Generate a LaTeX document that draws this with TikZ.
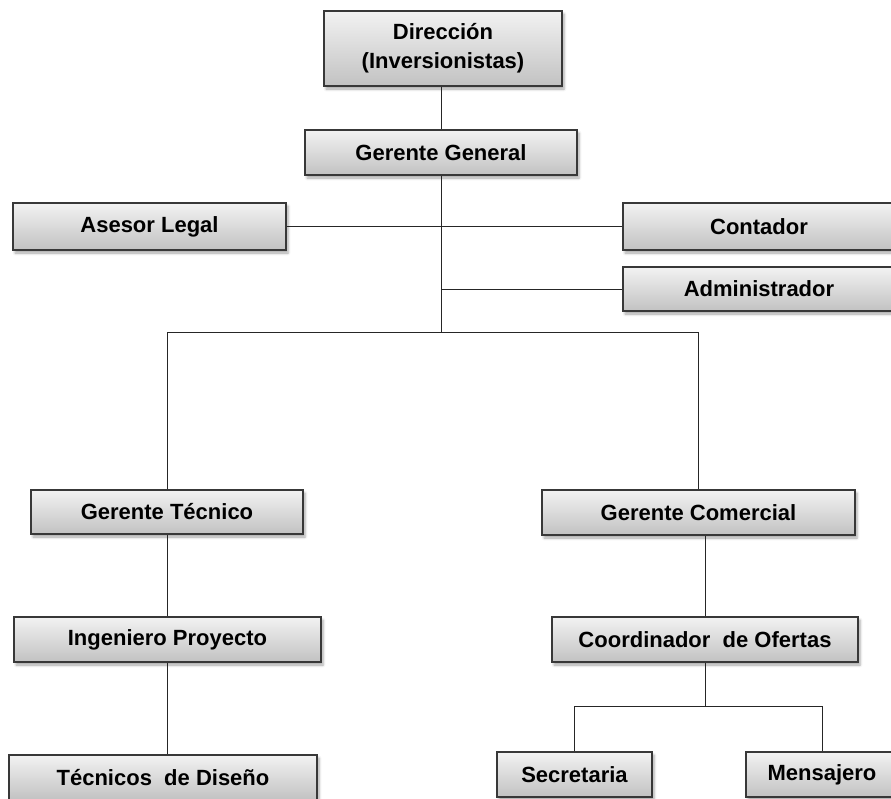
\documentclass[tikz,border=0pt]{standalone}
\usepackage{fontspec}
\setmainfont{Liberation Sans}
\usetikzlibrary{shadows.blur}
\begin{document}
\begin{tikzpicture}[x=1pt,y=-1pt,
  box/.style={draw=black!78, line width=1.3pt, top color=black!5, bottom color=black!24,
    blur shadow={shadow xshift=2pt, shadow yshift=-3pt, shadow blur radius=2.5pt, shadow opacity=35},
    inner sep=0pt, align=center, font=\fontsize{22}{29}\selectfont\bfseries, text=black},
  link/.style={draw=black!85, line width=1pt}]
\useasboundingbox (0,0) rectangle (891,798);
\clip (0,0) rectangle (891,798);

% boxes: centre, width, height in pixels
\node[box, minimum width=238pt, minimum height=75pt] (dir) at (443,48.5) {Dirección\\(Inversionistas)};
\node[box, minimum width=272pt, minimum height=45pt] (gg) at (441,152.5) {Gerente General};
\node[box, minimum width=273pt, minimum height=47pt] (legal) at (149.5,226.5) {Asesor Legal};
\node[box, minimum width=272pt, minimum height=47pt] (cont) at (759,226.5) {Contador};
\node[box, minimum width=272pt, minimum height=44pt] (adm) at (759,289) {Administrador};
\node[box, minimum width=272pt, minimum height=44pt] (gt) at (167,512) {Gerente Técnico};
\node[box, minimum width=313pt, minimum height=45pt] (gc) at (698.5,512.5) {Gerente Comercial};
\node[box, minimum width=307pt, minimum height=45pt] (ip) at (167.5,639.5) {Ingeniero Proyecto};
\node[box, minimum width=306pt, minimum height=45pt] (co) at (705,639.5) {Coordinador\ \ de Ofertas};
\node[box, minimum width=308pt, minimum height=45pt] (td) at (163,777.5) {Técnicos\ \ de Diseño};
\node[box, minimum width=155pt, minimum height=45pt] (sec) at (574.5,774.5) {Secretaria};
\node[box, minimum width=152pt, minimum height=45pt] (men) at (822,774.5) {Mensajero};

% junction points
\coordinate (hub) at (441,332);
\coordinate (adj) at (441,289);
\coordinate (lj) at (167,332);
\coordinate (rj) at (698,332);
\coordinate (cj) at (705,706);
\coordinate (sj) at (574.5,706);
\coordinate (mj) at (822,706);

% connectors
\draw[link] (dir.south -| gg.north) -- (gg.north);
\draw[link] (gg.south) -- (hub);
\draw[link] (legal.east) -- (cont.west);
\draw[link] (adj) -- (adm.west);
\draw[link] (gt.north) -- (lj) -- (rj) -- (gc.north -| rj);
\draw[link] (gt.south) -- (gt.south |- ip.north);
\draw[link] (ip.south -| gt.south) -- (td.north -| gt.south);
\draw[link] (gc.south -| cj) -- (co.north);
\draw[link] (co.south) -- (cj);
\draw[link] (sec.north) -- (sj) -- (mj) -- (men.north);
\end{tikzpicture}
\end{document}
